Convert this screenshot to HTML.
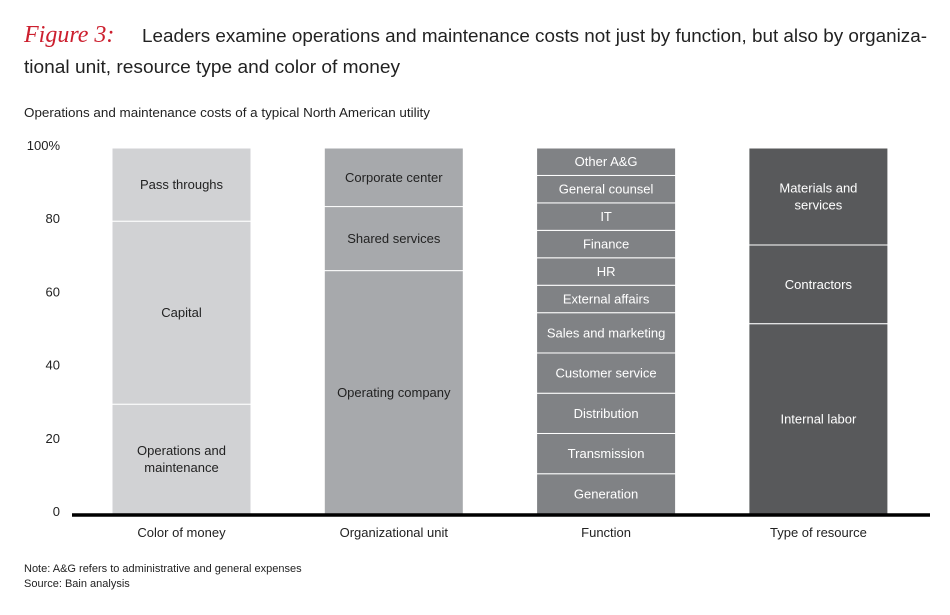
<!DOCTYPE html>
<html><head><meta charset="utf-8"><style>
body{margin:0;background:#fff;}
svg{display:block;font-family:"Liberation Sans",sans-serif;}
</style></head><body>
<svg id="chart" width="950" height="615" viewBox="0 0 950 615">
<text x="24" y="42" font-family="Liberation Serif,serif" font-style="italic" font-size="24" fill="#cc1f2e">Figure 3:</text>
<text x="142" y="42" font-size="18" fill="#222" textLength="785" lengthAdjust="spacingAndGlyphs">Leaders examine operations and maintenance costs not just by function, but also by organiza-</text>
<text x="24" y="73" font-size="18" fill="#222" textLength="376" lengthAdjust="spacingAndGlyphs">tional unit, resource type and color of money</text>
<text x="24" y="117" font-size="12.5" fill="#222" textLength="406" lengthAdjust="spacingAndGlyphs">Operations and maintenance costs of a typical North American utility</text>
<g id="yaxis"></g>
<g id="bars"></g>
<line x1="72" y1="515" x2="930" y2="515" stroke="#000" stroke-width="3.5"/>
<text x="24" y="572" font-size="11" fill="#222">Note: A&amp;G refers to administrative and general expenses</text>
<text x="24" y="587" font-size="11" fill="#222">Source: Bain analysis</text>
</svg>
<script>
const categories=["Color of money","Organizational unit","Function","Type of resource"];
const colorOfMoneyLabels=["Operations and\nmaintenance","Capital","Pass throughs"];
const colorOfMoneyValues=[30,50,20];
const orgUnitLabels=["Operating company","Shared services","Corporate center"];
const orgUnitValues=[66.5,17.5,16];
const functionLabels=["Generation","Transmission","Distribution","Customer service","Sales and marketing","External affairs","HR","Finance","IT","General counsel","Other A&G"];
const functionValues=[11,11,11,11,11,7.5,7.5,7.5,7.5,7.5,7.5];
const resourceLabels=["Internal labor","Contractors","Materials and\nservices"];
const resourceValues=[52,21.5,26.5];
const yTicks=[0,20,40,60,80,100];
const yTickLabels=["0","20","40","60","80","100%"];

const NS="http://www.w3.org/2000/svg";
const y0=514,yTop=148;
function yScale(v){return y0-(y0-yTop)*v/100;}
function xScale(i){return 112+i*212.3;}
const barW=139;
const series=[[colorOfMoneyLabels,colorOfMoneyValues,"#d1d2d4","#222"],[orgUnitLabels,orgUnitValues,"#a7a9ac","#222"],[functionLabels,functionValues,"#808285","#fff"],[resourceLabels,resourceValues,"#58595b","#fff"]];
function mk(tag,attrs,parent){const e=document.createElementNS(NS,tag);for(const k in attrs)e.setAttribute(k,attrs[k]);parent.appendChild(e);return e;}
const ya=document.getElementById("yaxis");
yTicks.forEach((t,i)=>{
  const tx=mk("text",{x:60,y:yScale(t)+2,"text-anchor":"end","font-size":"13",fill:"#222"},ya);
  
  
  tx.textContent=yTickLabels[i];
});
const bg=document.getElementById("bars");
series.forEach((s,ci)=>{
  const [labels,vals,fill,tc]=s;
  const x=xScale(ci);
  let cum=0;
  vals.forEach((v,j)=>{
    const ya1=yScale(cum),ya2=yScale(cum+v);
    const r=mk("rect",{x:x,y:ya2,width:barW,height:ya1-ya2,fill:fill,stroke:"#fff","stroke-width":"1"},bg);
    
    
    const lines=labels[j].split("\n");
    const cy=(ya1+ya2)/2;
    lines.forEach((ln,k)=>{
      const t=mk("text",{x:x+barW/2,y:cy+4.5+(k-(lines.length-1)/2)*17,"text-anchor":"middle","font-size":"13",fill:tc},bg);
      
      
      t.textContent=ln;
    });
    cum+=v;
  });
  const c=mk("text",{x:x+barW/2,y:537,"text-anchor":"middle","font-size":"13",fill:"#222"},bg);
  
  
  c.textContent=categories[ci];
});
</script>
</body></html>
